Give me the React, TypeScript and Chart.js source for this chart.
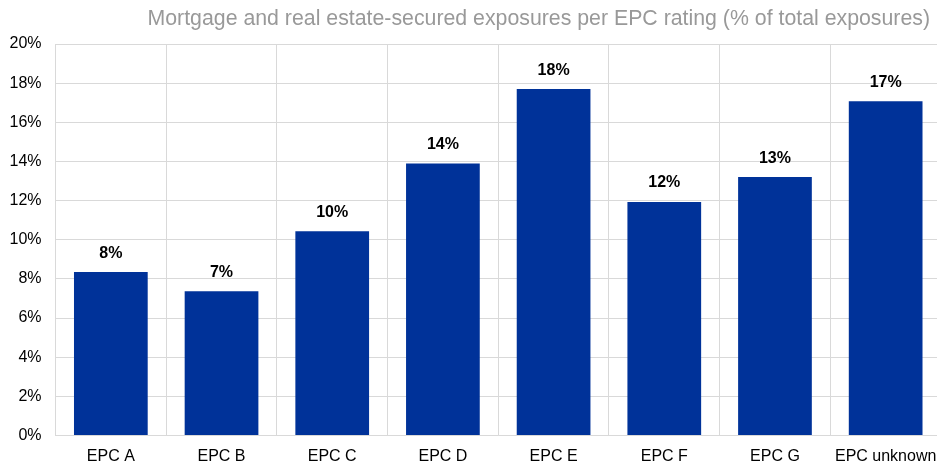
import React, { useEffect, useRef } from "react";
import { Chart, registerables } from "chart.js";

Chart.register(...registerables);

const TITLE = "Mortgage and real estate-secured exposures per EPC rating (% of total exposures)";
const categories = ["EPC A", "EPC B", "EPC C", "EPC D", "EPC E", "EPC F", "EPC G", "EPC unknown"];
const shares = [8.35, 7.37, 10.43, 13.9, 17.7, 11.93, 13.2, 17.07];
const yMin = 0;
const yMax = 20;
const yStep = 2;

const FONT = '"Liberation Sans", Arial, sans-serif';

const labelPlugin = {
  id: "barLabels",
  afterDatasetsDraw(chart: any) {
    const ctx = chart.ctx;
    const meta = chart.getDatasetMeta(0);
    ctx.save();
    ctx.font = `bold 16px ${FONT}`;
    ctx.fillStyle = "#000000";
    ctx.textAlign = "center";
    ctx.textBaseline = "alphabetic";
    meta.data.forEach((bar: any, i: number) => {
      const v = chart.data.datasets[0].data[i];
      ctx.fillText(`${Math.round(v)}%`, bar.x, bar.y - 14.5);
    });
    ctx.restore();
  },
};

const titlePlugin = {
  id: "rightTitle",
  afterDraw(chart: any) {
    const ctx = chart.ctx;
    ctx.save();
    ctx.font = `21.3px ${FONT}`;
    ctx.fillStyle = "#999999";
    ctx.textAlign = "right";
    ctx.textBaseline = "alphabetic";
    ctx.fillText(TITLE, chart.chartArea.right - 11, 25);
    ctx.restore();
  },
};

export default function App() {
  const ref = useRef<HTMLCanvasElement>(null);
  useEffect(() => {
    const chart = new Chart(ref.current as HTMLCanvasElement, {
      type: "bar",
      data: {
        labels: categories,
        datasets: [
          {
            data: shares,
            backgroundColor: "#003299",
            borderWidth: 0,
            barPercentage: 0.666,
            categoryPercentage: 1,
          },
        ],
      },
      options: {
        animation: false,
        responsive: false,
        layout: { padding: { top: 44, right: 4, left: 0, bottom: 0 } },
        plugins: {
          legend: { display: false },
          tooltip: { enabled: false },
          title: { display: false },
        },
        scales: {
          x: {
            grid: { color: "#d9d9d9", drawTicks: false, offset: true },
            border: { color: "#d9d9d9" },
            ticks: { color: "#000000", font: { family: FONT, size: 16 }, padding: 11, maxRotation: 0 },
            afterFit: (s: any) => {
              s.height = 25.5;
              s.paddingLeft = 0;
              s.paddingRight = 0;
            },
          },
          y: {
            min: yMin,
            max: yMax,
            grid: { color: "#d9d9d9", drawTicks: false },
            border: { color: "#d9d9d9" },
            ticks: {
              stepSize: yStep,
              color: "#000000",
              font: { family: FONT, size: 16 },
              padding: 14,
              callback: (v: any) => `${v}%`,
            },
            afterFit: (s: any) => {
              s.width = 55.5;
            },
          },
        },
      },
      plugins: [labelPlugin, titlePlugin],
    });
    return () => chart.destroy();
  }, []);
  return (
    <div style={{ position: "fixed", left: 0, top: 0, width: 945, height: 461, overflow: "hidden" }}>
      <canvas ref={ref} width={945} height={461} style={{ display: "block" }} />
    </div>
  );
}
